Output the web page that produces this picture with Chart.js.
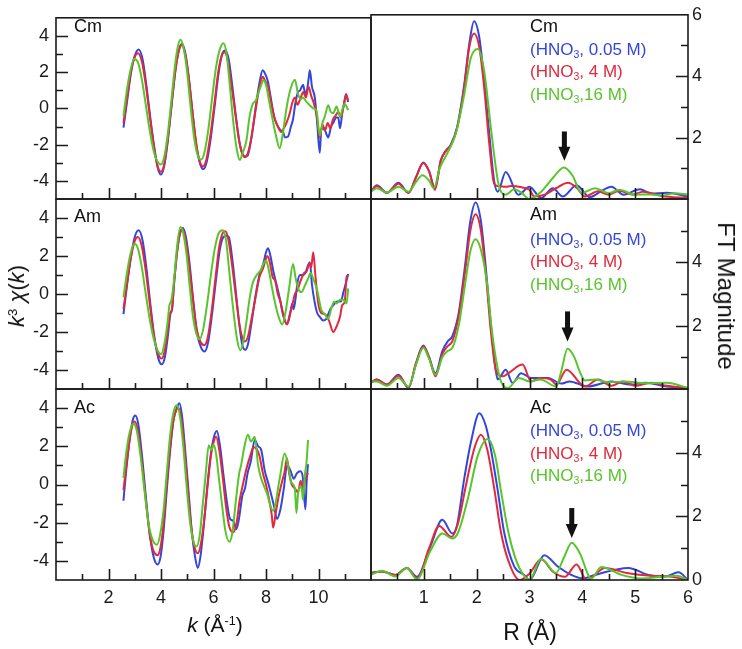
<!DOCTYPE html>
<html>
<head>
<meta charset="utf-8">
<title>EXAFS k3chi(k) and FT magnitude, Cm / Am / Ac</title>
<script src="https://cdn.jsdelivr.net/npm/chart.js@4.4.1/dist/chart.umd.min.js"></script>
<style>
  body { margin: 0; background: #fff; }
  #fig { position: relative; width: 742px; height: 649px; overflow: hidden;
         font-family: "Liberation Sans", Arial, sans-serif; color: #111; }
  #fig canvas { position: absolute; left: 0; top: 0; }
  .t { position: absolute; line-height: 1; white-space: nowrap; }
  .el { font-size: 18px; }
  .lg { font-size: 17px; }
  .lg sub { font-size: 0.62em; vertical-align: baseline; position: relative; top: 0.32em; }
  .t sup { font-size: 0.6em; vertical-align: baseline; position: relative; top: -0.55em; }
</style>
</head>
<body>
<div id="fig">
  <!-- panel labels, left column -->
  <div class="t el" style="left:74px;top:16.8px">Cm</div>
  <div class="t el" style="left:74px;top:206.5px">Am</div>
  <div class="t el" style="left:74px;top:398px">Ac</div>

  <!-- panel labels + legend, right column -->
  <div class="t el" style="left:530px;top:16.5px">Cm</div>
  <div class="t lg" style="left:530px;top:40.5px;color:#3445dc">(HNO<sub>3</sub>, 0.05 M)</div>
  <div class="t lg" style="left:530px;top:63px;color:#e2283b">(HNO<sub>3</sub>, 4 M)</div>
  <div class="t lg" style="left:530px;top:85.5px;color:#58c52d">(HNO<sub>3</sub>,16 M)</div>

  <div class="t el" style="left:530px;top:204.5px">Am</div>
  <div class="t lg" style="left:530px;top:230.5px;color:#3445dc">(HNO<sub>3</sub>, 0.05 M)</div>
  <div class="t lg" style="left:530px;top:253px;color:#e2283b">(HNO<sub>3</sub>, 4 M)</div>
  <div class="t lg" style="left:530px;top:275.5px;color:#58c52d">(HNO<sub>3</sub>,16 M)</div>

  <div class="t el" style="left:530px;top:397.5px">Ac</div>
  <div class="t lg" style="left:530px;top:422px;color:#3445dc">(HNO<sub>3</sub>, 0.05 M)</div>
  <div class="t lg" style="left:530px;top:444.5px;color:#e2283b">(HNO<sub>3</sub>, 4 M)</div>
  <div class="t lg" style="left:530px;top:467px;color:#58c52d">(HNO<sub>3</sub>,16 M)</div>

  <!-- axis titles -->
  <div class="t" style="left:17px;top:296px;font-size:22px;transform:translate(-50%,-50%) rotate(-90deg)"><i>k</i><sup>3</sup>&nbsp;<i>χ</i>(<i>k</i>)</div>
  <div class="t" style="left:726px;top:296px;font-size:24px;transform:translate(-50%,-50%) rotate(90deg)">FT Magnitude</div>
  <div class="t" style="left:215px;top:614px;font-size:21px;transform:translateX(-50%)"><i>k</i> (Å<sup>-1</sup>)</div>
  <div class="t" style="left:530px;top:620.5px;font-size:23px;transform:translateX(-50%)">R (Å)</div>
</div>

<script>
// ==========================================
// DATA
// ==========================================
const kTicks = [2, 4, 6, 8, 10];
const chiTicks = [-4, -2, 0, 2, 4];
const rTicks = [1, 2, 3, 4, 5, 6];
const ftTicksCm = [2, 4, 6];
const ftTicksAm = [2, 4];
const ftTicksAc = [0, 2, 4];

// k^3 chi(k) : [k, value]  (0.05 M, 4 M, 16 M HNO3)
const chiCm005 = [[2.57,-1.06],[2.7,0.3],[2.85,1.9],[3.0,2.9],[3.15,3.25],[3.3,2.7],[3.45,1.2],[3.6,-0.6],[3.75,-2.2],[3.88,-3.3],[4.0,-3.65],[4.12,-3.2],[4.25,-1.9],[4.4,0.1],[4.55,2.1],[4.7,3.3],[4.8,3.55],[4.92,3.1],[5.05,1.8],[5.2,-0.2],[5.35,-2.1],[5.5,-3.1],[5.62,-3.35],[5.75,-2.9],[5.9,-1.6],[6.05,0.2],[6.2,2.0],[6.33,3.0],[6.45,3.2],[6.58,2.7],[6.72,1.2],[6.85,-0.4],[6.98,-1.8],[7.1,-2.5],[7.2,-2.65],[7.3,-2.6],[7.4,-2.0],[7.5,-1.1],[7.62,0.2],[7.75,1.4],[7.87,2.1],[7.97,1.9],[8.07,1.5],[8.18,0.6],[8.3,-0.4],[8.42,-0.9],[8.55,-1.2],[8.65,-1.3],[8.72,-1.6],[8.84,-1.55],[8.95,-1.0],[9.03,-0.6],[9.12,0.3],[9.22,0.9],[9.3,1.0],[9.41,1.3],[9.5,0.8],[9.56,1.0],[9.62,1.6],[9.67,2.1],[9.75,1.2],[9.86,0.6],[9.95,-0.8],[10.05,-2.45],[10.11,-1.1],[10.24,-1.2],[10.37,-1.6],[10.48,-1.0],[10.56,-0.8],[10.68,-0.5],[10.75,-0.5],[10.82,-1.1],[10.9,-0.3],[10.98,0.3],[11.05,0.8],[11.13,0.35]];
const chiCm4 = [[2.57,-0.8],[2.7,0.5],[2.85,2.0],[3.0,2.85],[3.12,3.05],[3.27,2.6],[3.42,1.3],[3.58,-0.5],[3.73,-2.1],[3.87,-3.2],[4.0,-3.5],[4.12,-3.1],[4.25,-1.8],[4.4,0.2],[4.55,2.1],[4.68,3.2],[4.79,3.5],[4.92,3.0],[5.05,1.8],[5.2,-0.2],[5.35,-2.0],[5.48,-2.95],[5.6,-3.2],[5.73,-2.8],[5.88,-1.5],[6.03,0.2],[6.18,2.0],[6.31,2.9],[6.42,3.1],[6.55,2.6],[6.7,1.1],[6.85,-0.5],[6.98,-1.8],[7.1,-2.5],[7.2,-2.7],[7.3,-2.5],[7.42,-1.8],[7.55,-0.6],[7.68,0.6],[7.8,1.5],[7.88,1.75],[7.97,1.5],[8.08,1.2],[8.2,0.3],[8.32,-0.5],[8.45,-1.0],[8.58,-1.3],[8.68,-1.1],[8.78,-0.8],[8.9,-0.3],[9.0,0.3],[9.1,0.6],[9.2,0.2],[9.3,0.5],[9.42,0.9],[9.52,0.6],[9.62,1.2],[9.72,0.7],[9.82,0.3],[9.93,-0.4],[10.05,-1.6],[10.15,-0.9],[10.25,-1.2],[10.35,-0.8],[10.45,-1.1],[10.55,-0.6],[10.65,-0.4],[10.75,-0.2],[10.85,-0.5],[10.95,0.1],[11.05,0.75],[11.13,0.4]];
const chiCm16 = [[2.57,-0.44],[2.68,0.8],[2.82,2.0],[2.98,2.73],[3.12,2.55],[3.27,1.6],[3.42,0.2],[3.58,-1.3],[3.73,-2.4],[3.87,-2.95],[4.0,-3.1],[4.12,-2.7],[4.25,-1.5],[4.4,0.5],[4.52,2.2],[4.64,3.4],[4.74,3.79],[4.85,3.4],[4.98,2.2],[5.12,0.2],[5.27,-1.7],[5.4,-2.6],[5.53,-2.82],[5.66,-2.4],[5.8,-1.2],[5.95,0.6],[6.1,2.3],[6.25,3.3],[6.38,3.6],[6.5,3.0],[6.62,1.3],[6.75,-0.7],[6.88,-2.2],[7.0,-2.85],[7.1,-2.5],[7.25,-1.8],[7.38,-0.4],[7.5,0.26],[7.62,0.45],[7.72,0.9],[7.82,1.3],[7.89,1.55],[8.0,1.3],[8.12,0.4],[8.25,-0.6],[8.38,-1.5],[8.52,-2.2],[8.65,-1.3],[8.78,0.0],[8.92,1.0],[9.1,1.58],[9.22,0.8],[9.32,0.5],[9.41,0.6],[9.52,0.4],[9.61,0.26],[9.72,0.1],[9.8,0.0],[9.92,-0.1],[10.05,-1.5],[10.15,-0.8],[10.24,-0.45],[10.37,0.18],[10.47,-0.2],[10.56,-0.26],[10.69,0.1],[10.82,-0.45],[10.9,-0.1],[11.0,0.26],[11.07,0.1],[11.13,-0.1]];

const chiAm005 = [[2.57,-1.06],[2.7,0.4],[2.85,1.9],[3.0,3.0],[3.15,3.35],[3.3,2.8],[3.45,1.3],[3.6,-0.6],[3.75,-2.3],[3.9,-3.4],[4.03,-3.7],[4.15,-3.3],[4.28,-2.0],[4.35,-1.1],[4.42,-0.8],[4.5,0.6],[4.62,2.3],[4.73,3.2],[4.83,3.47],[4.95,3.0],[5.08,1.7],[5.22,-0.2],[5.37,-2.0],[5.52,-2.8],[5.66,-3.03],[5.8,-2.5],[5.95,-1.0],[6.1,0.8],[6.25,2.4],[6.38,3.0],[6.48,3.05],[6.58,3.0],[6.72,1.8],[6.86,0.0],[7.0,-1.8],[7.1,-2.7],[7.21,-2.94],[7.32,-2.6],[7.45,-1.5],[7.6,-0.1],[7.75,1.0],[7.9,1.6],[8.0,2.2],[8.08,2.41],[8.17,2.0],[8.28,1.2],[8.4,0.5],[8.52,-0.2],[8.65,-1.1],[8.8,-1.59],[8.9,-1.2],[9.0,-0.5],[9.05,-0.8],[9.12,-0.3],[9.2,0.6],[9.3,1.0],[9.4,1.0],[9.5,1.1],[9.6,1.5],[9.67,1.67],[9.75,0.5],[9.85,-0.4],[9.95,-1.0],[10.05,-1.2],[10.18,-1.4],[10.3,-1.3],[10.45,-0.8],[10.56,-0.6],[10.7,-0.4],[10.85,-0.4],[10.95,0.1],[11.05,0.6],[11.13,1.06]];
const chiAm4 = [[2.57,-0.8],[2.7,0.5],[2.85,1.9],[3.0,2.8],[3.12,3.0],[3.27,2.5],[3.42,1.2],[3.58,-0.6],[3.73,-2.2],[3.88,-3.1],[4.02,-3.4],[4.14,-3.0],[4.27,-1.8],[4.35,-1.0],[4.42,-0.8],[4.5,0.6],[4.62,2.3],[4.72,3.2],[4.8,3.4],[4.92,3.0],[5.05,1.8],[5.2,-0.1],[5.35,-1.8],[5.5,-2.5],[5.64,-2.7],[5.78,-2.3],[5.93,-0.9],[6.08,0.9],[6.22,2.5],[6.35,3.2],[6.45,3.3],[6.56,2.9],[6.7,1.6],[6.85,-0.1],[7.0,-1.7],[7.1,-2.3],[7.2,-2.5],[7.32,-2.2],[7.45,-1.3],[7.6,-0.2],[7.75,0.9],[7.9,1.4],[7.98,1.8],[8.05,2.0],[8.14,1.7],[8.25,0.9],[8.35,0.7],[8.45,0.0],[8.55,-0.4],[8.68,-1.2],[8.8,-1.6],[8.9,-1.1],[9.0,-0.6],[9.1,0.0],[9.2,0.2],[9.32,0.7],[9.45,1.1],[9.55,1.2],[9.65,1.6],[9.72,1.4],[9.8,2.2],[9.88,1.0],[9.98,-0.4],[10.1,-1.0],[10.24,-1.06],[10.4,-1.4],[10.56,-2.0],[10.69,-1.7],[10.82,-1.2],[10.9,-0.6],[11.0,-0.4],[11.07,0.9],[11.13,1.0]];
const chiAm16 = [[2.57,-0.18],[2.68,0.9],[2.82,2.0],[2.98,2.64],[3.12,2.4],[3.27,1.4],[3.42,0.0],[3.58,-1.4],[3.73,-2.4],[3.88,-3.0],[4.0,-3.17],[4.12,-2.7],[4.25,-1.5],[4.32,-0.6],[4.4,-0.3],[4.5,0.8],[4.62,2.6],[4.74,3.52],[4.85,3.2],[4.98,2.0],[5.1,0.3],[5.22,-1.2],[5.35,-2.1],[5.47,-2.38],[5.6,-1.9],[5.75,-0.6],[5.9,1.0],[6.05,2.4],[6.2,3.2],[6.36,3.35],[6.48,2.8],[6.6,1.2],[6.75,-0.8],[6.9,-2.4],[7.02,-2.96],[7.12,-2.6],[7.25,-1.5],[7.38,-0.2],[7.5,0.6],[7.65,1.0],[7.82,1.3],[7.9,1.6],[8.0,1.76],[8.1,1.3],[8.22,0.4],[8.35,-0.5],[8.48,-1.2],[8.62,-1.6],[8.75,-0.9],[8.88,0.3],[9.03,1.58],[9.12,0.9],[9.22,0.3],[9.35,0.1],[9.5,0.5],[9.6,0.8],[9.7,1.1],[9.8,0.8],[9.95,0.2],[10.1,-0.8],[10.24,-1.06],[10.37,-1.3],[10.5,-0.7],[10.6,-0.4],[10.7,-0.5],[10.82,-0.3],[10.95,-0.3],[11.07,-0.5],[11.13,0.3]];

const chiAc005 = [[2.57,-0.85],[2.68,0.8],[2.82,2.5],[2.93,3.4],[3.02,3.61],[3.13,3.2],[3.27,1.6],[3.42,-0.6],[3.57,-2.6],[3.72,-3.8],[3.87,-4.19],[3.98,-3.8],[4.1,-2.4],[4.22,-0.3],[4.35,1.8],[4.48,3.4],[4.6,4.0],[4.7,4.26],[4.8,3.6],[4.92,1.8],[5.05,-0.4],[5.17,-2.4],[5.3,-3.8],[5.4,-4.37],[5.5,-3.8],[5.62,-2.3],[5.75,-0.3],[5.88,1.4],[6.0,2.4],[6.13,2.8],[6.25,2.0],[6.38,0.5],[6.5,-0.8],[6.63,-1.8],[6.75,-1.9],[6.87,-2.34],[6.97,-1.8],[7.1,-0.58],[7.2,-0.2],[7.3,0.6],[7.42,1.2],[7.57,2.33],[7.7,2.0],[7.82,1.8],[7.95,0.74],[8.1,0.0],[8.3,-1.1],[8.42,-1.8],[8.55,-1.3],[8.68,-0.2],[8.8,1.0],[8.93,0.74],[9.06,0.3],[9.18,0.6],[9.31,0.7],[9.4,0.4],[9.5,-1.3],[9.55,0.2],[9.6,1.06]];
const chiAc4 = [[2.57,-0.3],[2.68,1.0],[2.82,2.5],[2.92,3.15],[3.0,3.3],[3.12,2.8],[3.27,1.2],[3.42,-0.8],[3.57,-2.6],[3.72,-3.5],[3.87,-3.7],[3.98,-3.3],[4.1,-2.0],[4.22,0.0],[4.35,2.0],[4.48,3.4],[4.58,3.9],[4.67,4.0],[4.78,3.4],[4.9,1.8],[5.02,-0.2],[5.15,-2.2],[5.28,-3.3],[5.4,-3.6],[5.52,-3.1],[5.65,-1.8],[5.78,0.0],[5.9,1.5],[6.0,2.2],[6.1,2.5],[6.22,1.8],[6.35,0.4],[6.48,-1.2],[6.6,-2.2],[6.75,-2.5],[6.88,-2.0],[7.0,-0.8],[7.12,0.0],[7.25,0.8],[7.4,1.5],[7.52,1.95],[7.62,1.9],[7.75,1.5],[7.88,0.6],[8.0,0.0],[8.12,-0.8],[8.22,-1.6],[8.27,-2.26],[8.38,-1.4],[8.5,-0.5],[8.62,0.2],[8.7,0.6],[8.8,1.36],[8.88,0.6],[8.98,0.0],[9.1,-0.2],[9.22,-0.4],[9.32,0.2],[9.42,-0.3],[9.5,0.3],[9.6,0.6]];
const chiAc16 = [[2.57,0.35],[2.67,1.6],[2.8,2.7],[2.95,3.2],[3.08,2.8],[3.22,1.5],[3.37,-0.3],[3.52,-2.0],[3.68,-2.9],[3.85,-3.15],[3.97,-2.6],[4.1,-1.3],[4.22,0.6],[4.35,2.6],[4.48,3.8],[4.6,4.15],[4.72,3.6],[4.85,2.0],[4.97,0.0],[5.1,-1.9],[5.22,-2.9],[5.35,-3.25],[5.47,-2.7],[5.58,-1.2],[5.7,0.5],[5.82,2.06],[5.92,1.8],[6.0,2.1],[6.1,1.6],[6.2,0.4],[6.32,-1.0],[6.45,-2.4],[6.61,-3.0],[6.72,-2.5],[6.86,-0.75],[6.98,0.6],[7.05,1.0],[7.18,2.0],[7.31,2.6],[7.43,2.25],[7.57,2.5],[7.7,1.0],[7.82,0.3],[8.02,-0.4],[8.27,-1.37],[8.52,0.3],[8.71,1.62],[8.84,1.0],[8.97,0.1],[9.1,-0.2],[9.16,-1.5],[9.22,-0.5],[9.35,-0.1],[9.41,-0.8],[9.48,0.5],[9.54,1.1],[9.6,2.33]];

// FT magnitude : [R, value]
const ftCm005 = [[0,0.25],[0.11,0.45],[0.3,0.2],[0.52,0.53],[0.71,0.2],[0.85,0.7],[0.99,1.19],[1.1,0.9],[1.21,0.35],[1.32,1.25],[1.41,1.56],[1.51,1.77],[1.63,2.35],[1.76,3.67],[1.86,5.05],[1.95,5.79],[2.05,5.26],[2.14,3.9],[2.24,2.1],[2.33,0.6],[2.4,0.24],[2.55,0.88],[2.79,0.14],[3.0,0.4],[3.22,0.03],[3.44,0.35],[3.63,0.08],[3.89,0.45],[4.14,0.06],[4.35,0.25],[4.55,0.4],[4.78,0.14],[5.09,0.32],[5.3,0.18],[5.6,0.2],[6.0,0.08]];
const ftCm4 = [[0,0.25],[0.11,0.42],[0.3,0.2],[0.52,0.5],[0.71,0.2],[0.85,0.7],[0.99,1.17],[1.1,0.9],[1.21,0.3],[1.32,1.25],[1.41,1.55],[1.51,1.75],[1.63,2.3],[1.76,3.57],[1.86,4.94],[1.95,5.39],[2.05,4.94],[2.14,3.67],[2.24,1.77],[2.33,0.5],[2.4,0.42],[2.55,0.4],[2.65,0.42],[2.85,0.38],[3.0,0.3],[3.09,0.08],[3.3,0.15],[3.5,0.35],[3.73,0.53],[3.9,0.35],[4.05,0.08],[4.3,0.25],[4.5,0.14],[4.7,0.27],[4.95,0.14],[5.15,0.24],[5.5,0.1],[6.0,0.03]];
const ftCm16 = [[0,0.24],[0.11,0.35],[0.3,0.21],[0.52,0.4],[0.71,0.24],[0.85,0.55],[0.97,0.77],[1.1,0.6],[1.19,0.35],[1.3,1.0],[1.45,1.51],[1.6,2.1],[1.76,3.36],[1.89,4.6],[2.02,4.89],[2.14,4.2],[2.27,2.3],[2.4,0.6],[2.46,0.24],[2.55,0.14],[2.71,0.32],[2.85,0.2],[3.0,0.0],[3.2,0.2],[3.45,0.7],[3.65,1.03],[3.82,0.75],[3.98,0.19],[4.24,0.35],[4.5,0.19],[4.7,0.3],[5.0,0.14],[5.3,0.15],[5.5,0.11],[5.75,0.19],[6.0,0.14]];

const ftAm005 = [[0,0.2],[0.11,0.3],[0.3,0.14],[0.52,0.45],[0.71,0.03],[0.85,0.8],[0.99,1.37],[1.1,1.0],[1.22,0.5],[1.35,1.2],[1.45,1.5],[1.54,1.67],[1.66,2.4],[1.78,3.9],[1.88,5.3],[1.98,5.89],[2.08,5.3],[2.18,3.7],[2.27,2.0],[2.36,0.6],[2.4,0.3],[2.55,0.61],[2.68,0.19],[2.84,0.5],[3.03,0.35],[3.15,0.35],[3.35,0.35],[3.6,0.17],[3.76,0.24],[4.1,0.08],[4.55,0.24],[4.92,0.14],[5.2,0.2],[5.6,0.08],[6.0,0.03]];
const ftAm4 = [[0,0.2],[0.11,0.3],[0.3,0.14],[0.52,0.42],[0.71,0.05],[0.85,0.8],[0.99,1.35],[1.1,1.0],[1.22,0.4],[1.35,1.1],[1.45,1.35],[1.54,1.51],[1.66,2.3],[1.78,3.7],[1.88,5.0],[1.98,5.52],[2.08,5.0],[2.18,3.5],[2.27,1.8],[2.37,0.56],[2.5,0.4],[2.6,0.5],[2.87,0.77],[3.03,0.24],[3.2,0.35],[3.4,0.3],[3.51,0.14],[3.7,0.61],[4.05,0.08],[4.3,0.3],[4.55,0.1],[4.77,0.24],[5.0,0.1],[5.3,0.2],[5.6,0.1],[6.0,0.03]];
const ftAm16 = [[0,0.24],[0.11,0.24],[0.3,0.1],[0.52,0.35],[0.71,0.08],[0.85,0.75],[0.99,1.3],[1.1,0.95],[1.22,0.45],[1.35,1.0],[1.45,1.2],[1.54,1.3],[1.66,2.0],[1.78,3.3],[1.88,4.35],[1.98,4.73],[2.08,4.4],[2.2,3.3],[2.27,2.1],[2.38,0.8],[2.46,0.24],[2.59,0.03],[2.8,0.35],[3.0,0.24],[3.2,0.3],[3.51,0.08],[3.6,0.55],[3.72,1.27],[3.85,1.0],[3.95,0.55],[4.05,0.27],[4.24,0.3],[4.5,0.21],[4.8,0.24],[5.2,0.18],[5.6,0.2],[6.0,0.03]];

const ftAc005 = [[0,0.22],[0.21,0.27],[0.46,0.16],[0.68,0.38],[0.87,0.1],[1.13,1.08],[1.35,1.89],[1.54,1.46],[1.63,1.73],[1.76,3.14],[1.89,4.32],[2.05,5.24],[2.17,4.86],[2.27,4.1],[2.4,2.8],[2.52,1.5],[2.71,0.43],[2.9,0.16],[3.0,0.0],[3.28,0.78],[3.53,0.43],[3.79,0.16],[4.01,0.05],[4.24,0.16],[4.87,0.38],[5.25,0.16],[5.57,0.11],[5.82,0.24],[6.0,0.0]];
const ftAc4 = [[0,0.22],[0.21,0.27],[0.46,0.16],[0.68,0.38],[0.87,0.05],[1.1,1.0],[1.29,1.7],[1.52,1.35],[1.65,1.8],[1.8,3.0],[1.95,4.1],[2.08,4.56],[2.2,4.1],[2.33,2.9],[2.46,1.5],[2.6,0.6],[2.81,0.0],[3.0,0.2],[3.22,0.65],[3.45,0.25],[3.67,0.1],[3.89,0.49],[4.08,0.0],[4.43,0.38],[4.84,0.22],[5.3,0.13],[5.65,0.11],[6.0,0.0]];
const ftAc16 = [[0,0.16],[0.21,0.29],[0.46,0.11],[0.68,0.38],[0.87,0.02],[1.12,0.9],[1.35,1.46],[1.54,1.3],[1.65,1.5],[1.84,2.6],[2.02,3.9],[2.21,4.43],[2.35,3.9],[2.46,2.8],[2.6,1.5],[2.72,0.75],[2.85,0.25],[3.0,0.0],[3.22,0.67],[3.5,0.22],[3.65,0.7],[3.8,1.17],[3.95,0.85],[4.17,0.05],[4.36,0.41],[4.74,0.16],[5.12,0.05],[5.5,0.1],[5.8,0.13],[6.0,0.0]];

// arrows over the ~3.7 A peak : [R, top, tip]
const arrowCm = [3.66, 2.2, 1.25];
const arrowAm = [3.72, 2.45, 1.5];
const arrowAc = [3.8, 2.26, 1.32];

// ==========================================
// STYLE / LAYOUT
// ==========================================
const W = 742, H = 649;
const colors = ['#3445dc', '#e2283b', '#58c52d'];
const ink = '#1b1b1b';
const tickFont = { family: '"Liberation Sans", Arial, sans-serif', size: 18 };
const rows = [[11, 199], [199, 389], [389, 580]];
const colK = [56, 371], colR = [371, 688];
const xLabelBand = 40;   // room under the bottom row for tick labels

const near = (v, step) => Math.abs(v / step - Math.round(v / step)) < 1e-6;

// frame, inward tick marks and the arrow marker
const frame = {
  id: 'frame',
  afterDraw(chart, args, o) {
    const { ctx, chartArea: a } = chart;
    const x = chart.scales.x, y = chart.scales.y;
    ctx.save();
    ctx.strokeStyle = ink;
    ctx.lineWidth = 1.6;
    ctx.strokeRect(a.left, a.top, a.right - a.left, a.bottom - a.top);
    ctx.beginPath();
    for (let v = x.min + o.xStep; v < x.max - 1e-6; v += o.xStep) {
      const px = Math.round(x.getPixelForValue(v)) + 0.5;
      const len = near(v, o.xMajor) ? 11 : 6;
      ctx.moveTo(px, a.bottom); ctx.lineTo(px, a.bottom - len);
    }
    for (let v = y.min + 1; v < y.max - 1e-6; v += 1) {
      const py = Math.round(y.getPixelForValue(v)) + 0.5;
      const len = near(v, 2) ? 12 : 7;
      if (o.ySide === 'left') { ctx.moveTo(a.left, py); ctx.lineTo(a.left + len, py); }
      else { ctx.moveTo(a.right, py); ctx.lineTo(a.right - len, py); }
    }
    ctx.stroke();
    if (o.arrow) {
      const [r, top, tip] = o.arrow;
      const px = x.getPixelForValue(r);
      const pTop = y.getPixelForValue(top), pTip = y.getPixelForValue(tip);
      const head = 14, hw = 6;
      ctx.fillStyle = '#111';
      ctx.fillRect(px - 2.5, pTop, 5, pTip - head - pTop + 1);
      ctx.beginPath();
      ctx.moveTo(px - hw, pTip - head);
      ctx.lineTo(px + hw, pTip - head);
      ctx.lineTo(px, pTip);
      ctx.closePath();
      ctx.fill();
    }
    ctx.restore();
  }
};

function panel(col, row, xMax, yMin, yMax, series, ticksX, ticksY, showX, ySide, extra) {
  const fig = document.getElementById('fig');
  const cv = document.createElement('canvas');
  cv.width = W; cv.height = H;
  fig.insertBefore(cv, fig.firstChild);

  // the y scale box fills the margin on its side, so its labels are not clipped
  const yBox = ySide === 'left' ? col[0] : W - col[1];
  const xBox = showX ? xLabelBand : 0;
  const pad = {
    left: ySide === 'left' ? 0 : col[0],
    right: ySide === 'left' ? W - col[1] : 0,
    top: row[0],
    bottom: H - row[1] - xBox
  };

  // Chart.js puts dataset 0 on top; reverse so 16 M is drawn last
  const ds = series.map((s, i) => ({
    data: s.map(p => ({ x: p[0], y: p[1] })),
    borderColor: colors[i], borderWidth: 2, pointRadius: 0,
    cubicInterpolationMode: 'monotone', fill: false
  })).reverse();

  return new Chart(cv, {
    type: 'line',
    data: { datasets: ds },
    options: {
      responsive: false, animation: false, events: [],
      layout: { padding: pad },
      plugins: { legend: { display: false }, tooltip: { enabled: false }, frame: extra },
      scales: {
        x: {
          type: 'linear', min: 0, max: xMax,
          grid: { display: false, drawTicks: false }, border: { display: false },
          ticks: { display: showX, font: tickFont, color: ink, padding: 7, autoSkip: false, maxRotation: 0 },
          afterBuildTicks: s => { s.ticks = ticksX.map(v => ({ value: v })); },
          afterFit: s => { s.height = xBox; }
        },
        y: {
          type: 'linear', position: ySide, min: yMin, max: yMax,
          grid: { display: false, drawTicks: false }, border: { display: false },
          ticks: { font: tickFont, color: ink, padding: ySide === 'left' ? 7 : 4, autoSkip: false },
          afterBuildTicks: s => { s.ticks = ticksY.map(v => ({ value: v })); },
          afterFit: s => { s.width = yBox; }
        }
      }
    },
    plugins: [frame]
  });
}

// ==========================================
// LEFT COLUMN: k^3 chi(k)
// ==========================================
const kOpts = { xStep: 1, xMajor: 2, ySide: 'left' };
panel(colK, rows[0], 12, -5, 5, [chiCm005, chiCm4, chiCm16], kTicks, chiTicks, false, 'left', kOpts);
panel(colK, rows[1], 12, -5, 5, [chiAm005, chiAm4, chiAm16], kTicks, chiTicks, false, 'left', kOpts);
panel(colK, rows[2], 12, -5, 5, [chiAc005, chiAc4, chiAc16], kTicks, chiTicks, true, 'left', kOpts);

// ==========================================
// RIGHT COLUMN: FT magnitude
// ==========================================
panel(colR, rows[0], 6, 0, 6, [ftCm005, ftCm4, ftCm16], rTicks, ftTicksCm, false, 'right',
  { xStep: 0.5, xMajor: 1, ySide: 'right', arrow: arrowCm });
panel(colR, rows[1], 6, 0, 6, [ftAm005, ftAm4, ftAm16], rTicks, ftTicksAm, false, 'right',
  { xStep: 0.5, xMajor: 1, ySide: 'right', arrow: arrowAm });
panel(colR, rows[2], 6, 0, 6, [ftAc005, ftAc4, ftAc16], rTicks, ftTicksAc, true, 'right',
  { xStep: 0.5, xMajor: 1, ySide: 'right', arrow: arrowAc });
</script>
</body>
</html>
